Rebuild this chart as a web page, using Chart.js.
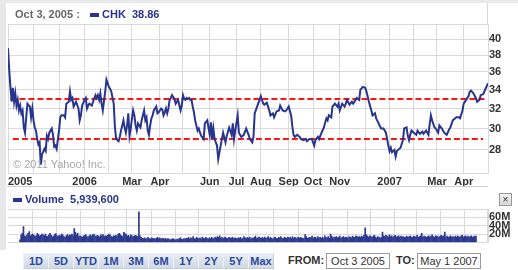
<!DOCTYPE html>
<html>
<head>
<meta charset="utf-8">
<script src="https://cdn.jsdelivr.net/npm/chart.js@4.4.1/dist/chart.umd.min.js"></script>
<style>
  body { margin: 0; width: 518px; height: 270px; background: #fff; position: relative; overflow: hidden; font-family: 'Liberation Sans', Arial, sans-serif; }
  .abs { position: absolute; }
  .strip { background: #e8e8e8; }
  .lbl { font-size: 11px; font-weight: bold; line-height: 13px; white-space: nowrap; }
  .btn { position: absolute; top: 253px; width: 24px; height: 14px; border: 1px solid #c4ccd8; border-top-color: #eef2f8; border-left-color: #eef2f8;
         background: linear-gradient(#e9eef5, #cfd8e4); color: #2b4a9c; font-size: 11px; font-weight: bold; line-height: 14px; text-align: center; }
  .box { position: absolute; top: 253px; height: 14px; border: 1px solid #9a9a9a; font-size: 11px; line-height: 14px; color: #333; text-align: center; }
</style>
</head>
<body>
<div class="abs strip" style="left:0;top:0;width:518px;height:3px"></div>
<div class="abs strip" style="left:0;top:0;width:6px;height:250px"></div>
<div class="abs" style="left:487px;top:3px;width:1px;height:21px;background:#d8d8d8"></div>

<canvas id="priceChart" class="abs" style="left:0;top:0" width="518" height="188"></canvas>
<canvas id="volumeChart" class="abs" style="left:0;top:190px" width="518" height="60"></canvas>

<div class="abs lbl" style="left:15px;top:8px;color:#666">Oct 3, 2005 :</div>
<div class="abs" style="left:90px;top:13px;width:9px;height:4px;background:#27358f"></div>
<div class="abs lbl" style="left:102px;top:8px;color:#27358f">CHK&nbsp; 38.86</div>
<div class="abs" style="left:13px;top:158px;font-size:11px;color:#a8a8a8;white-space:nowrap">© 2011 Yahoo! Inc.</div>
<div class="abs" style="left:7px;top:186px;width:481px;height:1px;background:#d0d0d0"></div>

<div class="abs" style="left:13px;top:198px;width:9px;height:4px;background:#27358f"></div>
<div class="abs lbl" style="left:25px;top:193px;color:#27358f">Volume&nbsp; 5,939,600</div>
<div class="abs" style="left:499px;top:193px;width:11px;height:11px;border:1px solid #999;background:linear-gradient(#f4f4f4,#d6d6d6);font-size:10px;line-height:11px;text-align:center;color:#333">×</div>

<div id="buttons"></div>
<div class="abs lbl" style="left:288px;top:254px;color:#333">FROM:</div>
<div class="box" style="left:326px;width:62px">Oct 3 2005</div>
<div class="abs lbl" style="left:396px;top:254px;color:#333">TO:</div>
<div class="box" style="left:417px;width:62px">May 1 2007</div>

<script>
// trading-day index from Oct 3 2005 (0) to May 1 2007 (395)
const priceDays = [0,1,2,3,4,5,6,7,8,9,10,11,12,13,14,15,16,18,19,20,21,22,23,24,25,26,27,28,30,31,32,33,34,35,36,37,38,39,40,42,43,44,46,47,48,50,51,52,53,54,56,58,59,60,61,63,64,65,66,67,69,70,72,73,74,75,76,77,78,80,81,83,84,85,87,88,89,91,
  92,93,94,95,96,97,98,99,100,101,102,103,104,105,106,107,108,109,110,111,112,113,114,115,116,117,118,119,120,121,122,123,124,125,126,127,128,129,130,131,132,133,134,135,136,137,138,139,140,141,142,143,144,145,146,147,148,149,150,151,152,153,154,155,156,157,158,
  159,161,162,164,166,167,168,169,170,172,173,174,176,177,179,180,182,184,185,186,187,189,190,192,194,196,198,199,201,202,203,205,207,208,
  210,211,213,215,216,218,219,221,223,224,226,228,229,231,233,234,235,236,238,240,241,243,245,246,248,250,252,253,255,256,258,260,261,262,263,264,266,267,269,271,272,273,275,277,278,279,281,283,284,286,287,289,290,292,294,295,297,299,300,302,303,305,307,309,311,312,313,314,315,316,318,319,320,322,323,325,326,328,329,330,331,332,334,336,337,339,341,342,344,346,347,348,349,351,352,354,355,357,359,361,363,364,366,368,369,371,372,374,375,377,379,380,381,383,385,386,388,389,391,392,393,395];
const priceValues = [38.86,36.2,34.3,32.7,34.2,32.7,33.6,32.3,32.9,31.8,32.3,31.5,31.8,30.1,29.6,31.1,32.5,32.2,31.1,32.0,30.8,30.1,29.8,29.0,28.5,28.7,26.7,27.6,28.1,27.9,29.3,29.0,29.6,29.8,30.0,29.4,28.3,28.4,28.1,29.8,31.1,31.3,31.3,31.1,32.5,32.7,33.8,32.9,33.1,32.2,32.7,32.0,30.8,31.3,32.3,32.9,33.1,32.0,32.3,32.5,32.3,32.7,33.4,33.1,33.4,32.9,33.6,32.5,31.8,33.8,35.1,34.3,34.1,33.8,32.5,30.1,29.0,28.8,
  29.2,29.8,30.3,30.8,30.1,29.6,30.3,31.5,29.3,30.0,31.0,31.8,31.3,30.3,29.8,30.5,30.3,30.1,30.8,31.3,31.8,30.8,31.1,29.8,29.4,30.3,31.0,31.3,31.8,32.0,32.2,31.5,31.6,31.8,32.0,31.9,31.3,31.6,32.0,31.5,32.0,32.9,33.1,33.4,33.2,33.0,32.5,32.7,32.9,32.3,31.8,32.3,33.4,33.0,32.9,33.1,33.0,33.1,32.9,32.9,32.2,31.6,30.8,30.3,29.8,30.0,29.6,
  29.3,29.0,30.5,30.8,29.4,30.6,29.0,30.0,29.0,28.4,27.2,27.8,29.0,29.6,28.7,29.3,30.1,29.4,30.5,29.0,29.8,31.3,29.6,29.2,29.4,30.0,29.4,29.0,28.7,29.2,31.5,32.2,32.9,33.3,
  32.5,32.4,32.6,31.8,31.3,31.5,31.1,31.7,31.8,32.3,31.8,31.7,31.8,32.2,31.3,30.2,29.4,29.2,29.4,29.2,29.0,28.9,29.0,28.8,29.0,29.0,28.4,28.9,29.2,29.0,29.6,30.1,30.6,31.0,30.8,31.3,31.1,32.2,32.5,32.2,32.5,31.8,32.5,32.2,32.5,32.9,32.4,32.7,32.5,32.9,33.1,32.9,34.0,34.3,34.2,33.8,32.7,31.8,31.3,31.5,31.0,30.5,30.0,30.0,29.6,29.0,28.4,27.9,28.2,27.8,28.0,27.4,27.9,28.1,28.2,28.9,30.0,30.1,29.3,28.9,29.4,29.8,29.6,29.4,29.8,29.5,29.7,29.5,29.8,29.4,30.4,31.3,30.8,30.1,30.0,29.6,30.3,30.0,29.6,29.4,29.9,30.1,30.8,31.0,31.1,31.1,31.0,31.8,32.5,32.9,33.3,33.8,33.9,33.6,33.1,32.7,32.9,33.4,33.5,33.8,34.1,34.7];

// volume in millions, one per trading day
const volumes = [
  5.94,18,22,38,16,14,18,22,26,15,18,20,17,14,16,22,19,15,17,20,18,
  16,20,15,14,18,22,17,13,15,19,21,16,14,17,15,20,18,14,12,16,19,
  15,18,17,20,16,33,24,18,22,14,16,14,12,15,17,19,14,13,16,18,15,
  18,20,16,14,17,15,13,18,16,19,14,16,15,17,20,18,14,13,16,15,
  17,15,20,22,18,16,14,24,21,19,15,17,13,18,16,14,15,17,16,
  14,73,16,12,10,9,11,8,10,12,9,8,11,10,9,8,10,12,9,11,8,10,9,
  8,10,7,9,8,6,7,9,8,7,6,8,7,9,11,8,7,9,8,
  10,9,12,8,11,10,14,9,8,12,10,9,11,8,13,10,9,12,10,8,11,9,
  12,10,9,13,11,14,12,16,10,12,9,11,13,10,9,12,11,10,13,9,11,10,
  9,11,10,12,8,10,14,11,9,12,10,13,8,11,10,12,15,9,11,13,
  11,10,12,9,13,10,11,14,9,12,10,8,11,13,10,9,12,11,14,10,9,12,11,
  10,13,11,12,9,14,10,12,11,9,13,10,12,11,10,9,19,14,10,11,
  12,11,15,10,13,12,9,14,11,12,10,13,9,16,12,11,14,10,20,15,11,13,
  12,14,11,13,15,10,12,14,11,13,12,10,14,12,11,15,13,12,16,14,13,
  14,12,15,13,17,35,18,15,13,16,14,12,15,17,13,11,14,12,10,13,
  25,16,14,17,15,13,18,14,16,12,15,17,13,14,16,12,15,13,14,12,
  13,15,12,14,16,13,12,15,14,13,17,12,14,16,22,13,15,14,12,
  14,16,13,15,18,14,12,16,15,14,13,15,17,14,16,25,13,15,12,14,16,13,
  14,12,15,13,16,14,12,15,17,13,14,16,12,15,13,14,16,12,14,15,
  15];

const monthTicks = [0,21,42,63,83,102,125,144,166,188,208,231,251,273,294,314,334,353,375,395];
const monthLabels = ['2005','','','2006','','Mar','Apr','','Jun','Jul','Aug','Sep','Oct','Nov','','2007','','Mar','Apr',''];
const priceTicks = [26,28,30,32,34,36,38,40,42];
const volumeTicks = [0,20,40,60,80];
const upperLevel = 33, lowerLevel = 29;
const upperSpan = [2,394], lowerSpan = [4,391];
const rangeButtons = ['1D','5D','YTD','1M','3M','6M','1Y','2Y','5Y','Max'];

const gridColor = '#d9d9d9';
const tickFont = { family: 'Liberation Sans', weight: 'bold', size: 11 };

// range buttons
const btnBox = document.getElementById('buttons');
rangeButtons.forEach(function(t, i) {
    const b = document.createElement('div');
    b.className = 'btn';
    b.style.left = (23 + i * 25) + 'px';
    b.textContent = t;
    btnBox.appendChild(b);
});

const xAxis = function(showLabels) {
    return {
        type: 'linear', min: 0, max: 395,
        afterBuildTicks: function(scale) { scale.ticks = monthTicks.map(v => ({ value: v })); },
        afterFit: function(scale) { scale.height = showLabels ? 15 : 0; },
        grid: { color: gridColor, drawTicks: false },
        border: { color: gridColor },
        ticks: {
            display: showLabels, autoSkip: false, maxRotation: 0, align: 'inner', padding: 2,
            color: '#333', font: tickFont,
            callback: function(v, i) { return monthLabels[i]; }
        }
    };
};

const yAxis = function(extra) {
    return Object.assign({
        position: 'right',
        afterFit: function(scale) { scale.width = 30; },
        grid: { color: gridColor, drawTicks: false },
        border: { color: gridColor }
    }, extra);
};

new Chart(document.getElementById('priceChart').getContext('2d'), {
    type: 'line',
    data: {
        datasets: [{
            data: priceDays.map((d, i) => ({ x: d, y: priceValues[i] })),
            borderColor: '#27358f', borderWidth: 2, pointRadius: 0, tension: 0
        }, {
            data: upperSpan.map(d => ({ x: d, y: upperLevel })),
            borderColor: '#ff1414', borderWidth: 2, borderDash: [6, 3], pointRadius: 0
        }, {
            data: lowerSpan.map(d => ({ x: d, y: lowerLevel })),
            borderColor: '#ff1414', borderWidth: 2, borderDash: [6, 3], pointRadius: 0
        }]
    },
    options: {
        responsive: false, animation: false,
        layout: { padding: { left: 8, top: 24, right: 0, bottom: 0 } },
        plugins: { legend: { display: false }, tooltip: { enabled: false } },
        scales: {
            x: xAxis(true),
            y: yAxis({
                type: 'logarithmic', min: 26, max: 42,
                afterBuildTicks: function(scale) { scale.ticks = priceTicks.map(v => ({ value: v })); },
                ticks: {
                    autoSkip: false, padding: 1, color: '#333', font: tickFont,
                    callback: function(v) { return (v === 26 || v === 42) ? '' : String(v); }
                }
            })
        }
    }
});

new Chart(document.getElementById('volumeChart').getContext('2d'), {
    type: 'bar',
    data: {
        datasets: [{
            data: volumes.map((v, i) => ({ x: i, y: v })),
            backgroundColor: '#2b3990', barThickness: 1
        }]
    },
    options: {
        responsive: false, animation: false,
        layout: { padding: { left: 8, top: 19, right: 0, bottom: 1 } },
        plugins: { legend: { display: false }, tooltip: { enabled: false } },
        scales: {
            x: xAxis(false),
            y: yAxis({
                min: 0, max: 80,
                afterBuildTicks: function(scale) { scale.ticks = volumeTicks.map(v => ({ value: v })); },
                ticks: {
                    autoSkip: false, padding: 1, color: '#333', font: tickFont,
                    callback: function(v) { return (v === 0 || v === 80) ? '' : v + 'M'; }
                }
            })
        }
    }
});
</script>
</body>
</html>
